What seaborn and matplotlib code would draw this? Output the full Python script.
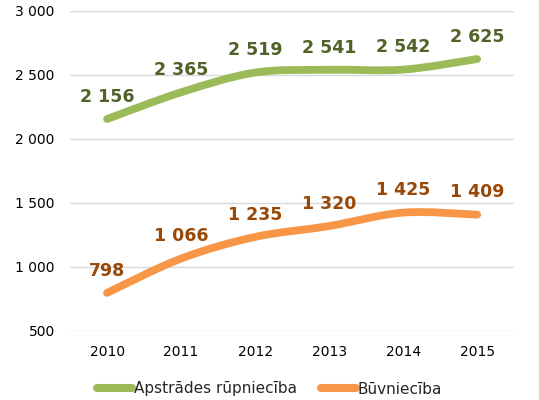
import matplotlib
matplotlib.use("Agg")
import matplotlib.pyplot as plt
from matplotlib.path import Path
from matplotlib.patches import PathPatch
import seaborn as sns
import pandas as pd
import numpy as np

years = ["2010", "2011", "2012", "2013", "2014", "2015"]
manufacturing = [2156, 2365, 2519, 2541, 2542, 2625]
construction = [798, 1066, 1235, 1320, 1425, 1409]
series_names = ["Apstrādes rūpniecība", "Būvniecība"]
line_colors = ["#9BBB59", "#F79646"]
label_colors = ["#4F6228", "#984807"]
y_ticks = [500, 1000, 1500, 2000, 2500, 3000]


def fmt(v):
    return f"{v:,}".replace(",", " ")


def smooth_path(xs, ys):
    # Catmull-Rom curve through the data points, as cubic Bezier segments
    pts = np.column_stack([xs, ys]).astype(float)
    ext = np.vstack([pts[0], pts, pts[-1]])
    verts = [pts[0]]
    codes = [Path.MOVETO]
    for i in range(1, len(ext) - 2):
        p0, p1, p2, p3 = ext[i - 1], ext[i], ext[i + 1], ext[i + 2]
        verts += [p1 + (p2 - p0) / 6, p2 - (p3 - p1) / 6, p2]
        codes += [Path.CURVE4] * 3
    return Path(verts, codes)


df = pd.DataFrame({
    "idx": list(range(len(years))) * 2,
    "value": manufacturing + construction,
    "series": [series_names[0]] * len(years) + [series_names[1]] * len(years),
})

sns.set_theme(style="white")
plt.rcParams["font.family"] = ["DejaVu Sans"]

fig = plt.figure(figsize=(5.39, 4.0), dpi=100)
ax = fig.add_axes([0.13, 0.1725, 0.824, 0.8])

sns.lineplot(data=df, x="idx", y="value", hue="series", palette=line_colors,
             linewidth=5.6, ax=ax, legend=True)

for line, color, lcol, vals in zip(ax.lines, line_colors, label_colors,
                                   [manufacturing, construction]):
    xs, ys = line.get_xdata(), line.get_ydata()
    line.set_visible(False)
    patch = PathPatch(smooth_path(xs, ys), facecolor="none", edgecolor=color,
                      lw=5.6, capstyle="round", joinstyle="round", zorder=3)
    ax.add_patch(patch)
    for x, v in zip(xs, vals):
        ax.annotate(fmt(v), (x, v), xytext=(0, 16), textcoords="offset points",
                    ha="center", va="center", fontsize=12.5, fontweight="bold",
                    color=lcol, zorder=4)

ax.set_xlim(-0.5, len(years) - 0.5)
ax.set_ylim(500, 3000)
ax.set_xticks(range(len(years)))
ax.set_xticklabels(years)
ax.set_yticks(y_ticks)
ax.set_yticklabels([fmt(t) for t in y_ticks])
ax.tick_params(axis="both", labelsize=10, colors="#000000", length=0)
ax.tick_params(axis="x", pad=10)
ax.tick_params(axis="y", pad=11)
ax.set_xlabel("")
ax.set_ylabel("")
ax.grid(axis="y", color="#D9D9D9", linewidth=1)
ax.set_axisbelow(True)
sns.despine(ax=ax, left=True, bottom=True)

ax.get_legend().remove()
handles = [plt.Line2D([0], [0], color=c, lw=5.8, solid_capstyle="round")
           for c in line_colors]
fig.legend(handles, series_names, loc="center", bbox_to_anchor=(0.5, 11 / 400),
           ncol=2, frameon=False, fontsize=11, handlelength=2.3,
           handletextpad=0.1, columnspacing=1.6)

fig.savefig("out.png", dpi=100)
plt.close(fig)
